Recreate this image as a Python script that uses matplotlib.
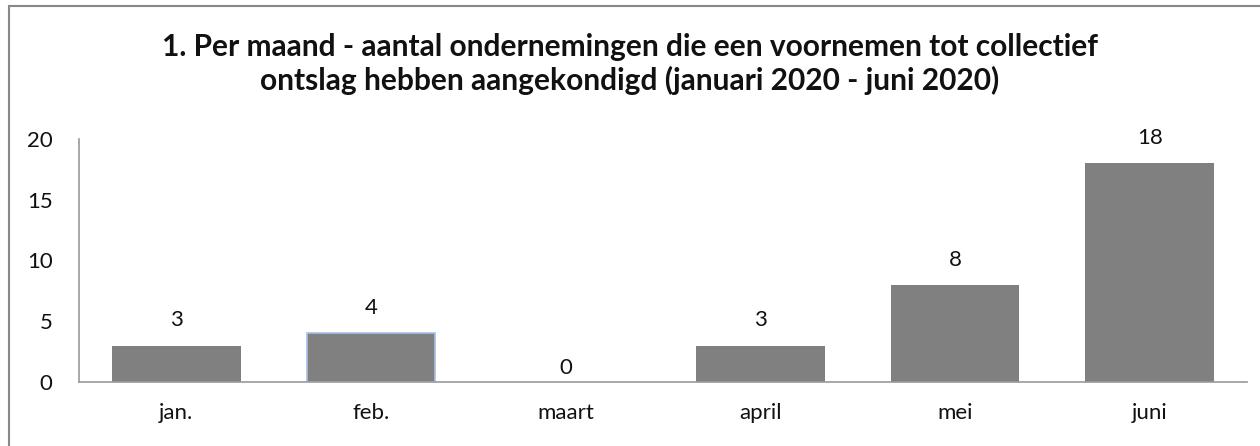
import matplotlib
matplotlib.use('Agg')
import matplotlib.pyplot as plt
from matplotlib.patches import Rectangle

# ── Data ──────────────────────────────────────────────────────────────────
months = ['jan.', 'feb.', 'maart', 'april', 'mei', 'juni']
counts = [3, 4, 0, 3, 8, 18]
yticks = [0, 5, 10, 15, 20]
title = ('1. Per maand - aantal ondernemingen die een voornemen tot collectief\n'
         'ontslag hebben aangekondigd (januari 2020 - juni 2020)')

plt.rcParams['font.family'] = ['Lato', 'DejaVu Sans']

fig = plt.figure(figsize=(12.6, 4.46), dpi=100)
ax = fig.add_axes([79 / 1260, 64 / 446, (1247 - 79) / 1260, (382 - 139) / 446])

x = list(range(len(months)))
bars = ax.bar(x, counts, width=0.66, color='#808080', zorder=2)
# the feb bar has a light blue outline in the original
bars[1].set_edgecolor('#a9bfe6')
bars[1].set_linewidth(1.2)

for xi, v in zip(x, counts):
    off = 3 if v == 0 else 11
    ax.annotate(str(v), (xi, v), xytext=(0, off), textcoords='offset points',
                ha='center', va='bottom', fontsize=16, color='#111111')

ax.set_xlim(-0.5, len(months) - 0.5)
ax.set_ylim(0, 20)
ax.set_yticks(yticks)
ax.set_xticks(x)
ax.set_xticklabels(months)
ax.tick_params(axis='both', length=0, labelsize=16, colors='#111111')
ax.tick_params(axis='y', pad=19)
ax.tick_params(axis='x', pad=15)

for side in ['top', 'right']:
    ax.spines[side].set_visible(False)
for side in ['left', 'bottom']:
    ax.spines[side].set_color('#999999')
    ax.spines[side].set_linewidth(1.2)

fig.text(0.5, 0.856, title, ha='center', va='center', fontsize=21.5,
         fontweight='bold', linespacing=1.2, color='#111111')

# outer chart border
fig.patches.append(Rectangle((9 / 1260, -0.01), 1.1, (446 - 6) / 446 + 0.01,
                             transform=fig.transFigure, fill=False,
                             edgecolor='#888888', linewidth=1.5))

fig.savefig('out.png', dpi=100)
